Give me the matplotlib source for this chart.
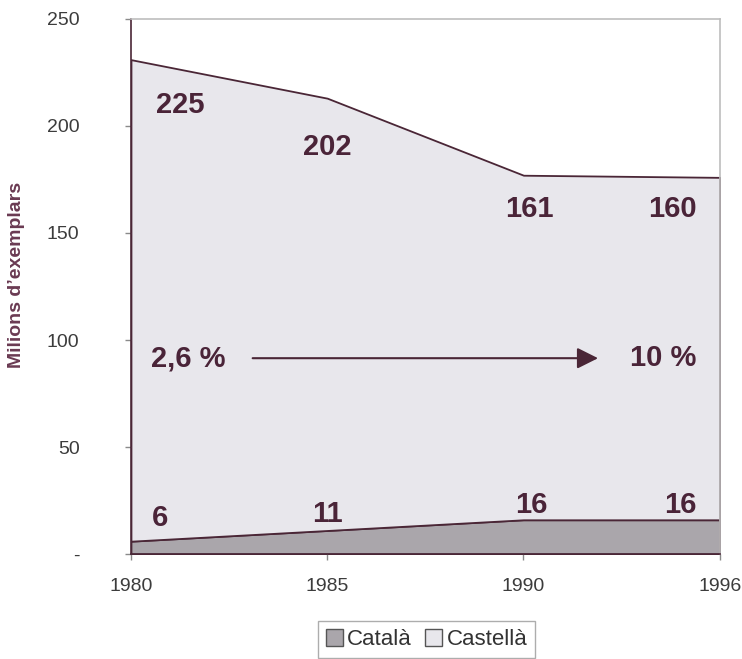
import numpy as np
import matplotlib
matplotlib.use("Agg")
import matplotlib.pyplot as plt
from matplotlib.patches import Patch

# ── data (millions of copies) ───────────────────────────────
years     = ["1980", "1985", "1990", "1996"]
catala    = [6, 11, 16, 16]
castella  = [225, 202, 161, 160]
share_start = "2,6 %"
share_end   = "10 %"

# ── styles ───────────────────────────────────────────────────
EDGE      = "#4a2636"
TEXT_DARK = "#4a2438"
FILL_CAT  = "#aaa6ab"
FILL_CAS  = "#e8e7ec"
FRAME     = "#bdbdbd"

plt.rcParams["font.family"] = ["Liberation Sans", "DejaVu Sans"]

fig = plt.figure(figsize=(7.42, 6.59), dpi=100)
ax = fig.add_axes([0.1765, 0.1593, 0.7935, 0.8119])

x = np.arange(len(years))
ax.stackplot(x, catala, castella,
             colors=[FILL_CAT, FILL_CAS],
             edgecolor=EDGE, linewidth=1.3)

ax.set_xlim(0, len(years) - 1)
ax.set_ylim(0, 250)

# value labels
cas_pos = [(0.25, 210), (1.0, 190), (2.03, 161), (2.76, 161)]
cat_pos = [(0.15, 17), (1.0, 18.5), (2.04, 23), (2.8, 23)]
for (px, py), v in zip(cas_pos, castella):
    ax.text(px, py, str(v), ha="center", va="center",
            fontsize=21, fontweight="bold", color=TEXT_DARK)
for (px, py), v in zip(cat_pos, catala):
    ax.text(px, py, str(v), ha="center", va="center",
            fontsize=21, fontweight="bold", color=TEXT_DARK)

# share of Catalan: arrow between the two percentages
ax.text(0.29, 91.5, share_start, ha="center", va="center",
        fontsize=21, fontweight="bold", color=TEXT_DARK)
ax.text(2.71, 91.5, share_end, ha="center", va="center",
        fontsize=21, fontweight="bold", color=TEXT_DARK)
ax.annotate("", xy=(2.38, 91.5), xytext=(0.62, 91.5),
            arrowprops=dict(arrowstyle="-|>", color=EDGE, lw=1.5,
                            mutation_scale=32, shrinkA=0, shrinkB=0))

# axes frame
for side in ("top", "right"):
    ax.spines[side].set_color(FRAME)
    ax.spines[side].set_linewidth(1.2)
for side in ("left", "bottom"):
    ax.spines[side].set_color(EDGE)
    ax.spines[side].set_linewidth(1.2)

ax.set_xticks(x)
ax.set_xticklabels(years)
ax.set_yticks([0, 50, 100, 150, 200, 250])
ax.set_yticklabels(["-", "50", "100", "150", "200", "250"])
ax.tick_params(axis="both", labelsize=14, labelcolor="#3c3c3c",
               color="#8a8a8a", length=4, width=1)
ax.tick_params(axis="y", pad=33)
ax.tick_params(axis="x", pad=13)

fig.text(0.022, 0.583, "Milions d\u2019exemplars", rotation=90,
         ha="center", va="center", fontsize=14, fontweight="bold",
         color="#6a3a52")

handles = [Patch(facecolor=FILL_CAT, edgecolor="#555555", label="Català"),
           Patch(facecolor=FILL_CAS, edgecolor="#555555", label="Castellà")]
leg = fig.legend(handles=handles, loc="upper center", ncol=2,
                 bbox_to_anchor=(0.575, 0.074), fontsize=16,
                 frameon=True, fancybox=False, handlelength=0.75,
                 handleheight=0.75, handletextpad=0.2, columnspacing=0.6,
                 borderpad=0.35)
leg.get_frame().set_edgecolor("#999999")
leg.get_frame().set_linewidth(1.0)
for t in leg.get_texts():
    t.set_color("#333333")

fig.savefig("out.png", dpi=100)
